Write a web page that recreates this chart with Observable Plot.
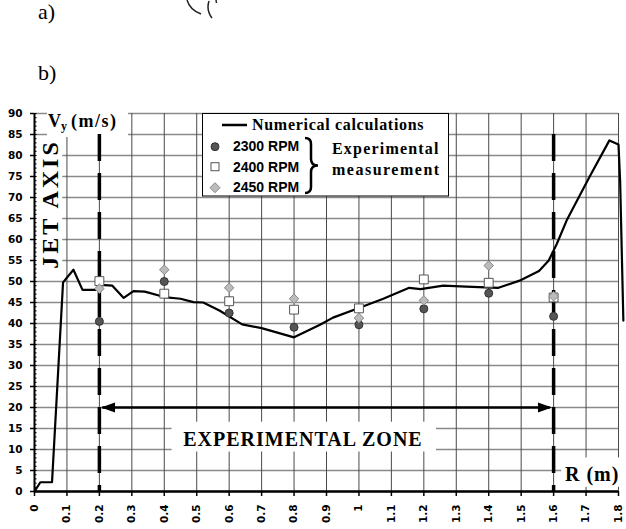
<!DOCTYPE html>
<html><head><meta charset="utf-8">
<script src="https://cdn.jsdelivr.net/npm/d3@7"></script>
<script src="https://cdn.jsdelivr.net/npm/@observablehq/plot@0.6"></script>
<style>
body{margin:0;background:#fff;}
#wrap{position:relative;width:626px;height:529px;overflow:hidden;background:#fff;}
#chart{position:absolute;left:0;top:0;}
#over{position:absolute;left:0;top:0;pointer-events:none;}
.serif{font-family:"Liberation Serif","Times New Roman",serif;}
.sans{font-family:"Liberation Sans",Arial,sans-serif;}
</style></head><body>
<div id="wrap"><div id="chart"></div>
<svg id="over" width="626" height="529" xmlns="http://www.w3.org/2000/svg">
  <text class="serif" x="38" y="19" font-size="22">a)</text>
  <text class="serif" x="38" y="80" font-size="22">b)</text>
  <path d="M187,0 Q190,10 201,14 M209,1 Q206,10 212,18 M216,0 L216.5,3" fill="none" stroke="#222" stroke-width="1.5"/>
  <text class="serif" x="48" y="126.5" font-size="18" font-weight="bold">V<tspan font-size="12" dy="3">y</tspan><tspan dy="-3" dx="4" letter-spacing="1.5">(m/s)</tspan></text>
  <text class="serif" transform="translate(58,204) rotate(-90)" text-anchor="middle" font-size="24" font-weight="bold" letter-spacing="3">JET AXIS</text>
  <text class="serif" x="303" y="445.5" text-anchor="middle" font-size="20" font-weight="bold" letter-spacing="1">EXPERIMENTAL ZONE</text>
  <text class="serif" x="565" y="481" font-size="20" font-weight="bold" letter-spacing="1">R (m)</text>
  <rect x="202.5" y="113.5" width="246" height="82.5" fill="#fff" stroke="#000" stroke-width="1"/>
  <line x1="222" x2="247" y1="125" y2="125" stroke="#000" stroke-width="2.5"/>
  <text class="serif" x="252" y="129.5" font-size="16" font-weight="bold" letter-spacing="0.7">Numerical calculations</text>
  <circle cx="215" cy="146.7" r="4" fill="#555" stroke="#333"/>
  <rect x="211" y="162.7" width="8" height="8" fill="#fff" stroke="#555"/>
  <path d="M215,182.7 L220,187.7 L215,192.7 L210,187.7 Z" fill="#bbb" stroke="#888"/>
  <text class="sans" x="233" y="151" font-size="14" font-weight="bold">2300 RPM</text>
  <text class="sans" x="233" y="171.5" font-size="14" font-weight="bold">2400 RPM</text>
  <text class="sans" x="233" y="192" font-size="14" font-weight="bold">2450 RPM</text>
  <path d="M305,138 Q311,138 311,144 L311,159 Q311,165.5 318,165.5 Q311,165.5 311,172 L311,187 Q311,193 305,193" fill="none" stroke="#000" stroke-width="2.5"/>
  <text class="serif" x="332" y="154" font-size="16" font-weight="bold" letter-spacing="1.2">Experimental</text>
  <text class="serif" x="332" y="175" font-size="16" font-weight="bold" letter-spacing="1.5">measurement</text>
</svg>
</div>
<script>
// Numerical calculation curve (R in m, Vy in m/s)
const curveR = [0, 0.018, 0.054, 0.088, 0.12, 0.148, 0.19, 0.205, 0.24, 0.275, 0.305, 0.34, 0.4, 0.45, 0.49, 0.52, 0.57, 0.64, 0.7, 0.8, 0.88, 0.92, 1.0, 1.075, 1.155, 1.19, 1.26, 1.33, 1.43, 1.495, 1.555, 1.585, 1.61, 1.64, 1.71, 1.772, 1.8, 1.805, 1.815];
const curveV = [0, 2.2, 2.2, 49.8, 52.8, 48, 48, 49.2, 49, 46.1, 47.7, 47.6, 46.3, 45.9, 45.1, 45, 43.1, 39.8, 38.9, 36.7, 39.7, 41.4, 43.7, 45.9, 48.5, 48.2, 49, 48.8, 48.5, 50.2, 52.5, 55, 59, 64.5, 74.8, 83.6, 82.6, 74, 40.7];
// Experimental measurements
const expR = [0.2, 0.4, 0.6, 0.8, 1.0, 1.2, 1.4, 1.6];
const v2300 = [40.5, 50, 42.5, 39.1, 39.7, 43.5, 47.2, 41.7];
const v2400 = [50.1, 47.1, 45.3, 43.3, 43.6, 50.5, 49.7, 46.2];
const v2450 = [48.3, 52.8, 48.5, 45.9, 41.3, 45.5, 53.8, 46.5];
// Ticks
const yTicks = d3.range(0, 91, 5);
const yMinor = d3.range(0, 91, 1);
const xTicks = d3.range(0, 19).map(i => i / 10);
// Experimental zone annotation
const zoneR = [0.2, 1.6];
const zoneTop = 85;
const zoneArrowV = 20;

const curve = curveR.map((r, i) => ({r, v: curveV[i]}));
const p2300 = expR.map((r, i) => ({r, v: v2300[i]}));
const p2400 = expR.map((r, i) => ({r, v: v2400[i]}));
const p2450 = expR.map((r, i) => ({r, v: v2450[i]}));

// white label backgrounds (in data units)
const boxes = [
  {x1: 0.04, x2: 0.29, y1: 84.3, y2: 90.6},   // Vy label
  {x1: 0.006, x2: 0.087, y1: 52.3, y2: 84.3}, // JET AXIS
  {x1: 0.424, x2: 1.239, y1: 9.4, y2: 16.5},  // EXPERIMENTAL ZONE
  {x1: 1.625, x2: 1.85, y1: 1.0, y2: 8.0}     // R (m)
];

const headRight = {draw(ctx) { ctx.moveTo(0, 0); ctx.lineTo(-11, -4); ctx.lineTo(-11, 4); ctx.closePath(); }};
const headLeft = {draw(ctx) { ctx.moveTo(0, 0); ctx.lineTo(11, -4); ctx.lineTo(11, 4); ctx.closePath(); }};

const chart = Plot.plot({
  width: 626, height: 529,
  marginLeft: 34, marginRight: 8, marginTop: 113, marginBottom: 38,
  x: {domain: [0, 1.8]},
  y: {domain: [0, 90]},
  style: {background: "transparent", fontFamily: "DejaVu Sans", fontWeight: "bold", fontSize: "10.5px", color: "black"},
  marks: [
    Plot.gridY(yTicks, {stroke: "#8a8a8a", strokeOpacity: 1, strokeWidth: 1.5}),
    Plot.gridX(xTicks, {stroke: "#4a4a4a", strokeOpacity: 1, strokeWidth: 1}),
    Plot.rect(boxes, {x1: "x1", x2: "x2", y1: "y1", y2: "y2", fill: "white", clip: false}),
    Plot.ruleY(yMinor, {y: d => d, x1: 0, x2: 0.008, stroke: "black", strokeWidth: 1}),
    Plot.ruleX(zoneR, {x: d => d, y1: zoneTop, y2: 0, stroke: "black", strokeWidth: 3.5, strokeDasharray: "27,12"}),
    Plot.ruleY([zoneArrowV], {y: d => d, x1: zoneR[0] + 0.01, x2: zoneR[1] - 0.01, stroke: "black", strokeWidth: 2.5}),
    Plot.dot([zoneArrowV], {x: zoneR[0] + 0.012, y: d => d, symbol: headLeft, fill: "black", stroke: "black", r: 4}),
    Plot.dot([zoneArrowV], {x: zoneR[1] - 0.012, y: d => d, symbol: headRight, fill: "black", stroke: "black", r: 4}),
    Plot.line(curve, {x: "r", y: "v", stroke: "black", strokeWidth: 2.2, clip: false}),
    Plot.dot(p2300, {x: "r", y: "v", symbol: "circle", r: 4, fill: "#555", stroke: "#333", strokeWidth: 1}),
    Plot.dot(p2400, {x: "r", y: "v", symbol: "square", r: 5, fill: "white", stroke: "#555", strokeWidth: 1}),
    Plot.dot(p2450, {x: "r", y: "v", symbol: "diamond2", r: 4.3, fill: "#bbb", stroke: "#888", strokeWidth: 1}),
    Plot.axisY({ticks: yTicks, tickSize: 4, tickPadding: 8, label: null, stroke: "black", strokeWidth: 1.5}),
    Plot.axisX({ticks: xTicks, tickSize: 5, tickPadding: 8, tickRotate: -90, tickFormat: d => String(+d.toFixed(1)), label: null, stroke: "black", strokeWidth: 1.5}),
    Plot.ruleX([0], {stroke: "black", strokeWidth: 2}),
    Plot.ruleY([0], {stroke: "black", strokeWidth: 2.5})
  ]
});
document.getElementById("chart").appendChild(chart);
</script>
</body></html>
